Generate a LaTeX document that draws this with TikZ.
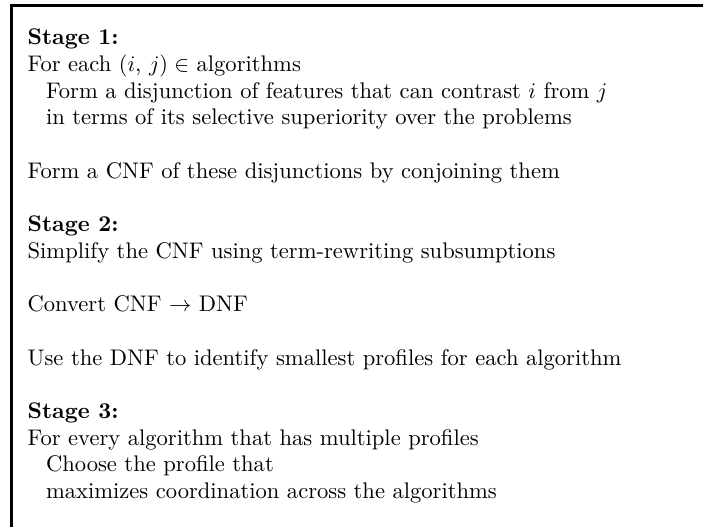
\documentclass[tikz,border=0pt]{standalone}
\usepackage{amsmath}
\begin{document}
\begin{tikzpicture}[
textline/.style={anchor=base west, inner sep=0pt, font=\fontsize{10.15}{12.2}\selectfont},
stagehead/.style={textline, font=\fontsize{10.15}{12.2}\selectfont\bfseries},
]
\useasboundingbox (0,0) rectangle (11.11,8.33);
%Frame
\draw[very thick] (0.18,0) -- (0.18,8.24) -- (11.11,8.24);
%Stage 1
\node[stagehead] at (0.43,7.620) (s1)  {Stage 1:};
\node[textline]  at (0.43,7.198) (l1)  {For each $(i$, $j) \in$ algorithms};
\node[textline]  at (0.72,6.776) (l2)  {Form a disjunction of features that can contrast $i$ from $j$};
\node[textline]  at (0.72,6.355) (l3)  {in terms of its selective superiority over the problems};
\node[textline]  at (0.43,5.511) (l4)  {Form a CNF of these disjunctions by conjoining them};
%Stage 2
\node[stagehead] at (0.43,4.667) (s2)  {Stage 2:};
\node[textline]  at (0.43,4.246) (l5)  {Simplify the CNF using term-rewriting subsumptions};
\node[textline]  at (0.43,3.402) (l6)  {Convert CNF $\rightarrow$ DNF};
\node[textline]  at (0.43,2.558) (l7)  {Use the DNF to identify smallest profiles for each algorithm};
%Stage 3
\node[stagehead] at (0.43,1.715) (s3)  {Stage 3:};
\node[textline]  at (0.43,1.293) (l8)  {For every algorithm that has multiple profiles};
\node[textline]  at (0.72,0.871) (l9)  {Choose the profile that};
\node[textline]  at (0.72,0.449) (l10) {maximizes coordination across the algorithms};
\end{tikzpicture}
\end{document}
